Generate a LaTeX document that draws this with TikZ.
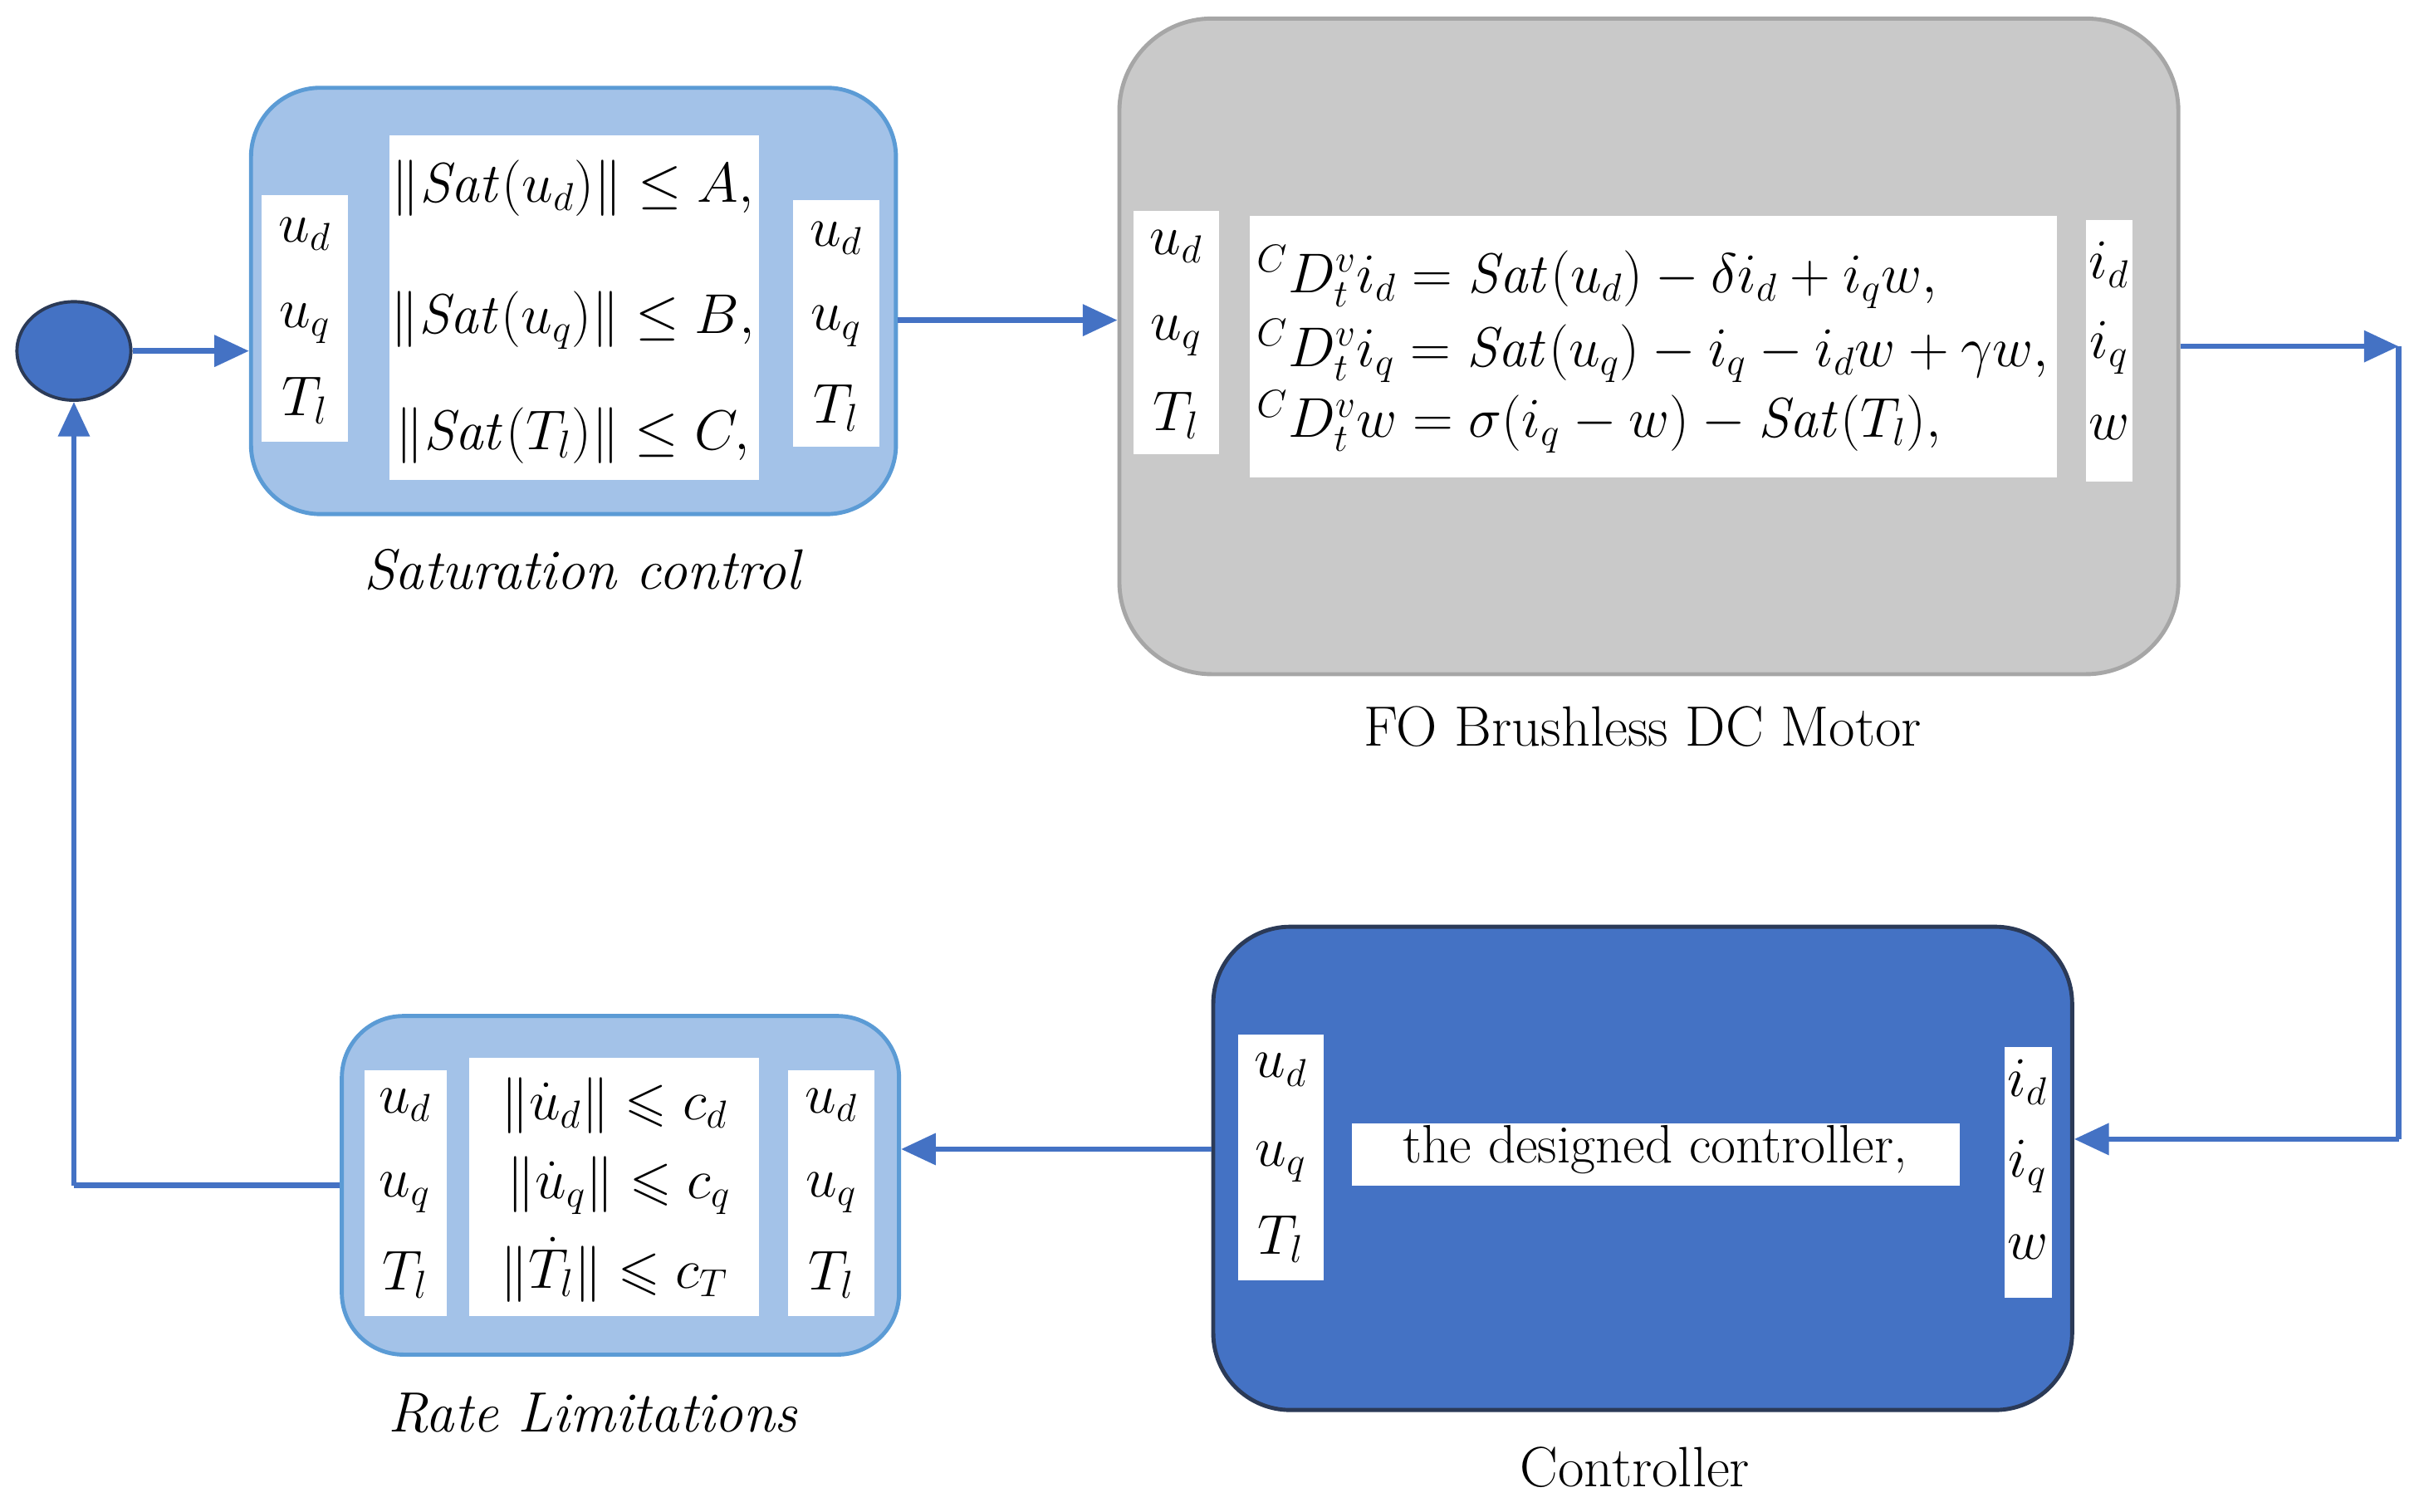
\documentclass[tikz,border=0pt]{standalone}
\usepackage{amsmath,amssymb}
\usetikzlibrary{arrows.meta,shapes.geometric}
\definecolor{ab}{HTML}{4472C4}
\definecolor{lb}{HTML}{A3C2E8}
\definecolor{lbd}{HTML}{5B9BD5}
\definecolor{gr}{HTML}{C9C9C9}
\definecolor{grd}{HTML}{A6A6A6}
\definecolor{dk}{HTML}{2B3A57}
\tikzset{
 arr/.style={-{Triangle[length=0.45cm,width=0.4cm]},line width=2pt,draw=ab},
 ln/.style={line width=2pt,draw=ab},
 wb/.style={fill=white,draw=none},
 t/.style={font=\fontsize{20}{24}\selectfont,inner sep=0},
 lbl/.style={font=\fontsize{21}{25}\selectfont,inner sep=0},
}
\begin{document}
\begin{tikzpicture}[x=0.02cm,y=-0.02cm]
\useasboundingbox (0,0) rectangle (1568,982);
% blocks
\node[ellipse,draw=dk,fill=ab,line width=1.2pt,minimum width=1.48cm,minimum height=1.28cm] (circ) at (48,228) {};
\node[draw=lbd,line width=1.5pt,fill=lb,rounded corners=0.9cm,minimum width=8.38cm,minimum height=5.54cm] (sat) at (372.5,195.5) {};
\node[draw=grd,line width=1.5pt,fill=gr,rounded corners=1.2cm,minimum width=13.76cm,minimum height=8.52cm] (motor) at (1071,225) {};
\node[draw=dk,line width=1.5pt,fill=ab,rounded corners=1cm,minimum width=11.16cm,minimum height=6.28cm] (ctrl) at (1067,759) {};
\node[draw=lbd,line width=1.5pt,fill=lb,rounded corners=0.8cm,minimum width=7.24cm,minimum height=4.4cm] (rate) at (403,770) {};
% white boxes
\fill[wb] (170,127) rectangle (226,287);
\fill[wb] (253,88) rectangle (493,312);
\fill[wb] (515,130) rectangle (571,290);
\fill[wb] (736,137) rectangle (792,295);
\fill[wb] (812,140) rectangle (1336,310);
\fill[wb] (1355,143) rectangle (1385,313);
\fill[wb] (804,672) rectangle (860,832);
\fill[wb] (878,730) rectangle (1273,770);
\fill[wb] (1302,680) rectangle (1333,843);
\fill[wb] (237,695) rectangle (290,855);
\fill[wb] (305,687) rectangle (493,855);
\fill[wb] (512,695) rectangle (568,855);
% sat texts
\node[t] (s1) at (198,152) {$u_d$};
\node[t] (s2) at (198,210) {$u_q$};
\node[t] (s3) at (198,260) {$T_l$};
\node[t] (s4) at (372,122) {$\|\mathit{Sat}(u_d)\|\leq A,$};
\node[t] (s5) at (372,208) {$\|\mathit{Sat}(u_q)\|\leq B,$};
\node[t] (s6) at (372,283) {$\|\mathit{Sat}(T_l)\|\leq C,$};
\node[t] (s7) at (543,155) {$u_d$};
\node[t] (s8) at (543,212) {$u_q$};
\node[t] (s9) at (543,265) {$T_l$};
\node[lbl] (satl) at (378,370) {\itshape Saturation control};
% motor texts
\node[t] (m1) at (764,160) {$u_d$};
\node[t] (m2) at (764,218) {$u_q$};
\node[t] (m3) at (764,270) {$T_l$};
\node[t,anchor=west] (m4) at (816,180) {${}^{C}D_t^{v}i_d=\mathit{Sat}(u_d)-\delta i_d+i_q w,$};
\node[t,anchor=west] (m5) at (816,228) {${}^{C}D_t^{v}i_q=\mathit{Sat}(u_q)-i_q-i_d w+\gamma w,$};
\node[t,anchor=west] (m6) at (816,274) {${}^{C}D_t^{v}w=\sigma(i_q-w)-\mathit{Sat}(T_l),$};
\node[t] (m7) at (1370,172) {$i_d$};
\node[t] (m8) at (1370,226) {$i_q$};
\node[t] (m9) at (1370,278) {$w$};
\node[lbl] (motl) at (1067,472) {FO Brushless DC Motor};
% controller texts
\node[t] (c1t) at (832,695) {$u_d$};
\node[t] (c2t) at (832,755) {$u_q$};
\node[t] (c3t) at (832,805) {$T_l$};
\node[t] (c4t) at (1075,747) {the designed controller,};
\node[t] (c5t) at (1317,703) {$i_d$};
\node[t] (c6t) at (1317,758) {$i_q$};
\node[t] (c7t) at (1317,810) {$w$};
\node[lbl] (ctll) at (1062,953) {Controller};
% rate texts
\node[t] (r1) at (263,718) {$u_d$};
\node[t] (r2) at (263,775) {$u_q$};
\node[t] (r3) at (263,828) {$T_l$};
\node[t] (r4) at (399,718) {$\|\dot{u}_d\|\leqslant c_d$};
\node[t] (r5) at (402,770) {$\|\dot{u}_q\|\leqslant c_q$};
\node[t] (r6) at (399,825) {$\|\dot{T}_l\|\leqslant c_T$};
\node[t] (r7) at (540,718) {$u_d$};
\node[t] (r8) at (540,775) {$u_q$};
\node[t] (r9) at (540,828) {$T_l$};
\node[lbl] (ratl) at (385,918) {\itshape Rate Limitations};
% connectors
\coordinate (k1) at (1558,222);
\coordinate (k2) at (1558,740);
\draw[arr] (circ.east) -- (circ.east -| sat.west);
\draw[arr] ([yshift=-0.25cm]sat.east) -- ([yshift=-0.25cm]sat.east -| motor.west);
\draw[arr] (motor.east) -- (motor.east -| k1);
\draw[ln] (motor.east -| k1) -- (k2);
\draw[arr] (k2) -- (k2 -| ctrl.east);
\draw[arr] ([yshift=0.25cm]ctrl.west) -- ([yshift=0.25cm]ctrl.west -| rate.east);
\draw[ln] (rate.west) -- (rate.west -| circ.south);
\draw[arr] (rate.west -| circ.south) -- (circ.south);
\end{tikzpicture}
\end{document}
